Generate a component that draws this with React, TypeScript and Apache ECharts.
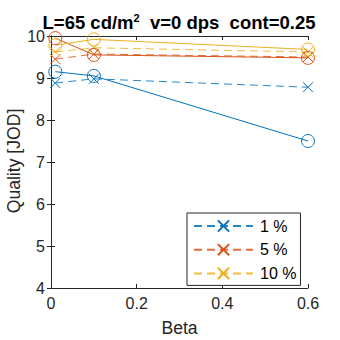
import React, { useEffect, useRef } from "react";
import * as echarts from "echarts";

const betaValues = [0.01, 0.1, 0.6];
const seriesLabels = ["1 %", "5 %", "10 %"];
const seriesColors = ["#0072BD", "#D95319", "#EDB120"];
const dashedValues = [
  [8.88, 8.98, 8.78],
  [9.45, 9.57, 9.5],
  [9.62, 9.72, 9.62],
];
const solidValues = [
  [9.15, 9.05, 7.5],
  [9.95, 9.55, 9.48],
  [9.78, 9.92, 9.68],
];
const titleMain = "L=65 cd/m";
const titleSup = "2";
const titleRest = "  v=0 dps  cont=0.25";
const xName = "Beta";
const yName = "Quality [JOD]";

const FONT = "'Liberation Sans', Arial, Helvetica, sans-serif";
const AX = "#262626";
const CROSS = "path://M0,0L10,10M10,0L0,10";

export default function App() {
  const ref = useRef<HTMLDivElement>(null);
  useEffect(() => {
    if (!ref.current) return;
    const chart = echarts.init(ref.current, null, { renderer: "svg" });
    const series: any[] = [];
    seriesLabels.forEach((name, i) => {
      series.push({
        type: "line",
        name,
        data: betaValues.map((b, j) => [b, dashedValues[i][j]]),
        xAxisIndex: 0,
        yAxisIndex: 0,
        symbol: CROSS,
        symbolSize: 10,
        showAllSymbol: true,
        lineStyle: { color: seriesColors[i], width: 1, type: [8, 5], opacity: 0.85 },
        itemStyle: { color: "rgba(0,0,0,0)", borderColor: seriesColors[i], borderWidth: 1 },
        z: 2,
      });
      series.push({
        type: "line",
        name: name + " solid",
        data: betaValues.map((b, j) => [b, solidValues[i][j]]),
        xAxisIndex: 0,
        yAxisIndex: 0,
        symbol: "circle",
        symbolSize: 13,
        lineStyle: { color: seriesColors[i], width: 1 },
        itemStyle: { color: "rgba(0,0,0,0)", borderColor: seriesColors[i], borderWidth: 1 },
        z: 3,
      });
    });
    const commonAxis = {
      axisLine: { show: true, lineStyle: { color: AX, width: 1 } },
      axisTick: { show: true, inside: true, length: 4, lineStyle: { color: AX, width: 1 } },
      splitLine: { show: false },
    };
    chart.setOption({
      animation: false,
      textStyle: { fontFamily: FONT },
      grid: { left: 51, right: 32, top: 36, bottom: 52, containLabel: false, outerBoundsMode: "none" },
      xAxis: [
        {
          type: "value",
          min: 0,
          max: 0.6,
          interval: 0.2,
          position: "bottom",
          ...commonAxis,
          axisLabel: { fontSize: 16, color: AX, fontFamily: FONT, margin: 7 },
          name: xName,
          nameLocation: "middle",
          nameGap: 31,
          nameTextStyle: { fontSize: 17.6, color: AX, fontFamily: FONT },
        },
        {
          type: "value",
          min: 0,
          max: 0.6,
          interval: 0.2,
          position: "top",
          ...commonAxis,
          axisLabel: { show: false },
        },
      ],
      yAxis: [
        {
          type: "value",
          min: 4,
          max: 10,
          interval: 1,
          position: "left",
          ...commonAxis,
          axisLabel: { fontSize: 16, color: AX, fontFamily: FONT, margin: 6 },
        },
        {
          type: "value",
          min: 4,
          max: 10,
          interval: 1,
          position: "right",
          ...commonAxis,
          axisLabel: { show: false },
        },
      ],
      legend: {
        data: seriesLabels,
        orient: "vertical",
        left: 187,
        top: 213,
        padding: [5, 4, 4, 6],
        itemWidth: 59,
        itemHeight: 14,
        itemGap: 7.7,
        borderColor: AX,
        borderWidth: 1,
        borderRadius: 0,
        backgroundColor: "#fff",
        textStyle: { fontSize: 16, color: "#000", fontFamily: FONT, padding: [0, 0, 0, 2] },
        selectedMode: false,
      },
      graphic: [
        {
          type: "text",
          x: 179,
          y: 22,
          style: {
            text: `{a|${titleMain}}{s|${titleSup}}{a|${titleRest}}`,
            textAlign: "center",
            textVerticalAlign: "middle",
            rich: {
              a: { fontSize: 18.5, fontWeight: "bold", fontFamily: FONT, lineHeight: 20, fill: "#000" },
              s: { fontSize: 11, fontWeight: "bold", fontFamily: FONT, lineHeight: 11, verticalAlign: "top", fill: "#000" },
            },
          },
        },
        {
          type: "text",
          x: 13.5,
          y: 161,
          rotation: Math.PI / 2,
          style: {
            text: yName,
            fontSize: 17.6,
            fontFamily: FONT,
            fill: AX,
            textAlign: "center",
            textVerticalAlign: "middle",
          },
        },
      ],
      series,
    });
    return () => chart.dispose();
  }, []);
  return (
    <div
      ref={ref}
      style={{ position: "absolute", left: 0, top: 0, width: 340, height: 340 }}
    />
  );
}
